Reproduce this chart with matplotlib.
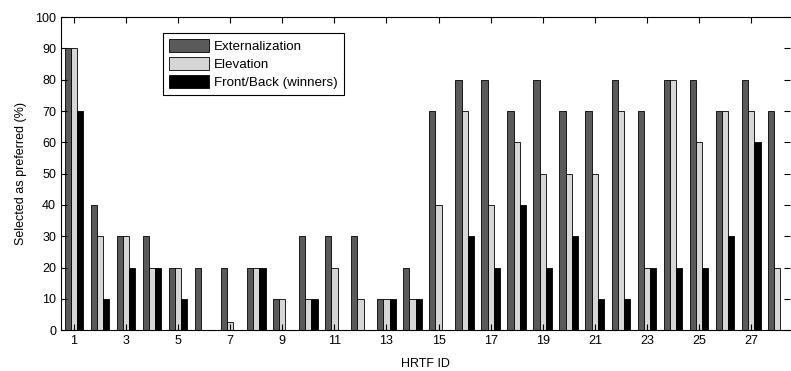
import numpy as np
import matplotlib
matplotlib.use("Agg")
import matplotlib.pyplot as plt

plt.rcParams["font.family"] = ["Liberation Sans", "DejaVu Sans"]

hrtf_ids = list(range(1, 29))
externalization = [90, 40, 30, 30, 20, 20, 20, 20, 10, 30, 30, 30, 10, 20,
                   70, 80, 80, 70, 80, 70, 70, 80, 70, 80, 80, 70, 80, 70]
elevation = [90, 30, 30, 20, 20, 0, 2.5, 20, 10, 10, 20, 10, 10, 10,
             40, 70, 40, 60, 50, 50, 50, 70, 20, 80, 60, 70, 70, 20]
front_back = [70, 10, 20, 20, 10, 0, 0, 20, 0, 10, 0, 0, 10, 10,
              0, 30, 20, 40, 20, 30, 10, 10, 20, 20, 20, 30, 60, 0]

fig = plt.figure(figsize=(7.91, 3.71), dpi=100)
ax = fig.add_axes([0.077, 0.11, 0.922, 0.844])

x = np.array(hrtf_ids)
w = 0.24
style = dict(edgecolor="black", linewidth=0.6)
ax.bar(x - w, externalization, w, color="#5a5a5a", label="Externalization", **style)
ax.bar(x, elevation, w, color="#d6d6d6", label="Elevation", **style)
ax.bar(x + w, front_back, w, color="black", label="Front/Back (winners)", **style)

ax.set_xlim(0.5, 28.5)
ax.set_ylim(0, 100)
ax.set_xticks(range(1, 29, 2))
ax.set_yticks(range(0, 101, 10))
ax.tick_params(direction="in", length=4, width=0.8, labelsize=9,
               top=True, right=True, colors="black")
for s in ax.spines.values():
    s.set_linewidth(0.8)
ax.spines["right"].set_visible(False)

ax.set_xlabel("HRTF ID", fontsize=9, labelpad=8)
ax.set_ylabel("Selected as preferred (%)", fontsize=9, labelpad=6)

leg = ax.legend(loc="upper left", bbox_to_anchor=(0.14, 0.95), fontsize=9.6,
                handlelength=3.0, handleheight=1.1, labelspacing=0.32,
                handletextpad=0.4, borderpad=0.45, borderaxespad=0,
                fancybox=False, framealpha=1)
leg.get_frame().set_edgecolor("black")
leg.get_frame().set_linewidth(0.8)

fig.savefig("out.png", dpi=100)
